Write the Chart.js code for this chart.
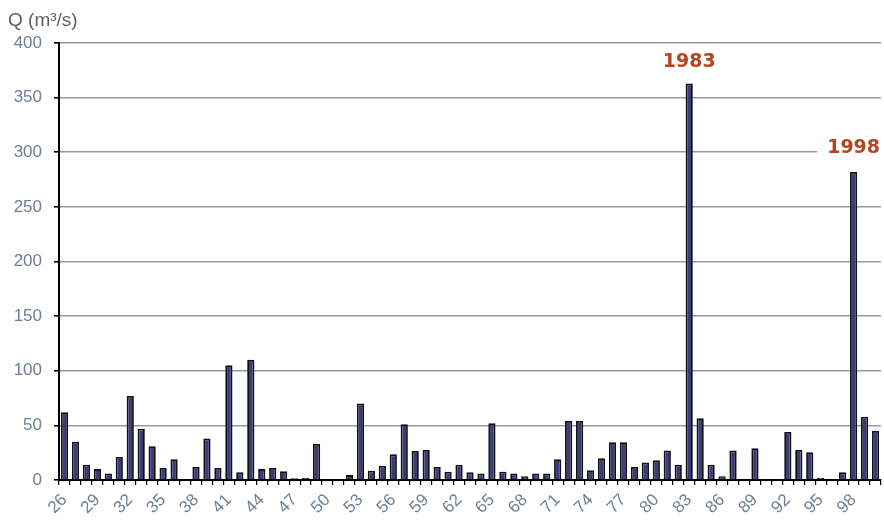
<!DOCTYPE html>
<html>
<head>
<meta charset="utf-8">
<title>Débits maximaux annuels</title>
<script src="https://cdn.jsdelivr.net/npm/chart.js@4/dist/chart.umd.min.js"></script>
<style>
  html, body { margin: 0; padding: 0; background: #fff; }
  #wrap { width: 884px; height: 521px; position: relative; }
</style>
</head>
<body>
<div id="wrap"><canvas id="chart"></canvas></div>
<script>
// Years 1926–2000, shown as two-digit labels
const years = ['26','27','28','29','30','31','32','33','34','35','36','37','38','39','40',
  '41','42','43','44','45','46','47','48','49','50','51','52','53','54','55','56','57',
  '58','59','60','61','62','63','64','65','66','67','68','69','70','71','72','73','74',
  '75','76','77','78','79','80','81','82','83','84','85','86','87','88','89','90','91',
  '92','93','94','95','96','97','98','99','00'];

// Annual peak discharge Q (m³/s)
const discharge = [62, 35, 14, 10, 6, 21, 77, 47, 31, 11, 19, 1, 12, 38, 11,
  105, 7, 110, 10, 11, 8, 1.5, 2, 33, 0.5, 0.5, 4.5, 70, 8.5, 13, 23.5, 51,
  26.5, 27.5, 12, 7.5, 14, 7, 6, 52, 7.5, 6, 3.5, 6, 6, 19, 54, 54, 9,
  20, 34.5, 34.5, 12, 16, 18, 27, 14, 363, 56.5, 14, 3.5, 27, 0.5, 29, 0.3, 0.3,
  44, 27.5, 25.5, 2, 0.5, 7, 282, 58, 45];

// Flood years called out above their bars
const floodYears = ['83', '98'];
const floodLabels = ['1983', '1998'];

const yTicks = [0, 50, 100, 150, 200, 250, 300, 350, 400];

const tickColor = '#6d7f97';

// Axis title and flood-year call-outs
const overlay = {
  id: 'overlay',
  afterDraw(chart) {
    const ctx = chart.ctx;
    ctx.save();
    ctx.fillStyle = '#5f5f5f';
    ctx.font = '19px "Liberation Sans", Arial, sans-serif';
    ctx.textAlign = 'left';
    ctx.textBaseline = 'middle';
    ctx.fillText('Q (m³/s)', 8, 21);

    const meta = chart.getDatasetMeta(0);
    const offsets = [21, 24];
    ctx.font = 'bold 19px "DejaVu Sans", Verdana, sans-serif';
    ctx.textAlign = 'center';
    floodYears.forEach((yr, i) => {
      const idx = years.indexOf(yr);
      const bar = meta.data[idx];
      const txt = floodLabels[i];
      const w = ctx.measureText(txt).width;
      const cx = bar.x;
      const cy = bar.y - offsets[i];
      ctx.fillStyle = '#ffffff';
      ctx.fillRect(cx - w / 2 - 10, cy - 11, w + 14, 22);
      ctx.fillStyle = '#b4461f';
      ctx.fillText(txt, cx, cy);
    });
    ctx.restore();
  }
};

new Chart(document.getElementById('chart'), {
  type: 'bar',
  data: {
    labels: years,
    datasets: [{
      data: discharge,
      backgroundColor: '#3d3b78',
      borderColor: '#111111',
      borderWidth: 1.8,
      barPercentage: 0.66,
      categoryPercentage: 1.0
    }]
  },
  options: {
    responsive: true,
    maintainAspectRatio: false,
    animation: false,
    layout: { padding: { top: 43, right: 3, left: 0, bottom: 0 } },
    plugins: {
      legend: { display: false },
      tooltip: { enabled: false }
    },
    scales: {
      x: {
        offset: true,
        border: { color: '#000', width: 2 },
        grid: { drawOnChartArea: false, tickLength: 5, tickColor: '#000', lineWidth: 1.2 },
        ticks: {
          autoSkip: false,
          maxRotation: 45,
          minRotation: 45,
          padding: 5,
          color: tickColor,
          font: { family: '"Liberation Sans", Arial, sans-serif', size: 17 },
          callback: (v, i) => (i % 3 === 0 ? years[i] : '')
        },
        afterFit: (scale) => {
          scale.height = 41;
          scale.paddingLeft = 0;
          scale.paddingRight = 0;
        }
      },
      y: {
        min: 0,
        max: 400,
        afterBuildTicks: (scale) => { scale.ticks = yTicks.map(v => ({ value: v })); },
        border: { color: '#000', width: 2 },
        grid: { color: '#9a9a9a', lineWidth: 1.6, tickLength: 5, tickColor: '#000' },
        ticks: {
          padding: 12,
          color: tickColor,
          font: { family: '"Liberation Sans", Arial, sans-serif', size: 17 }
        },
        afterFit: (scale) => {
          scale.width = 59;
          scale.paddingTop = 0;
          scale.paddingBottom = 0;
        }
      }
    }
  },
  plugins: [overlay]
});
</script>
</body>
</html>
